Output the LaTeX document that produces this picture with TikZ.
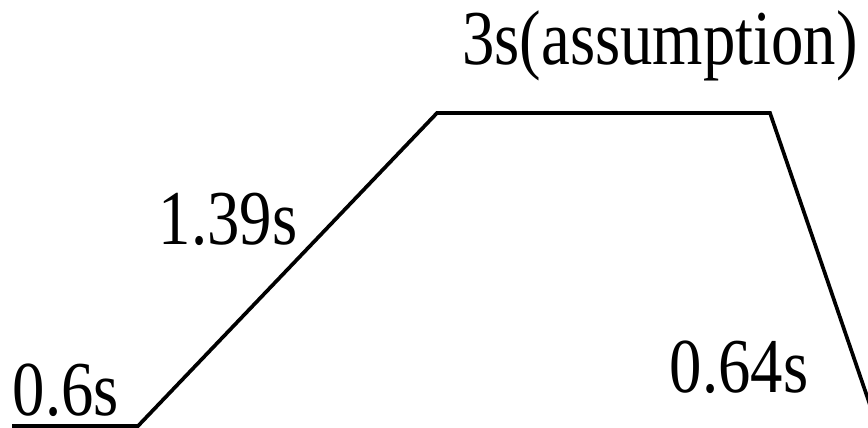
\documentclass[tikz,border=0pt]{standalone}
\usepackage{graphicx}
\usepackage{fontspec}
\setmainfont{Liberation Serif}

\begin{document}
\begin{tikzpicture}[x=0.01cm,y=-0.01cm,line width=1.05pt,
  tlabel/.style={anchor=base,inner sep=0pt,font=\fontsize{18.4}{20}\selectfont}]
\useasboundingbox (0,0) rectangle (868,428);
% profile
\coordinate (start) at (12,426);
\coordinate (rise) at (138,426);
\coordinate (topl) at (437,113);
\coordinate (topr) at (770,113);
\coordinate (stop) at (870,405);
\draw[line join=miter] (start) -- (rise) -- (topl) -- (topr) -- (stop);
% times
\node[tlabel] (t1) at (66,415) {\scalebox{1}[1.2]{0.6s}};
\node[tlabel] (t2) at (228,245) {\scalebox{1}[1.2]{1.39s}};
\node[tlabel] (t3) at (660,65) {\scalebox{1}[1.2]{3s(assumption)}};
\node[tlabel] (t4) at (739,392) {\scalebox{1}[1.2]{0.64s}};
\end{tikzpicture}
\end{document}
